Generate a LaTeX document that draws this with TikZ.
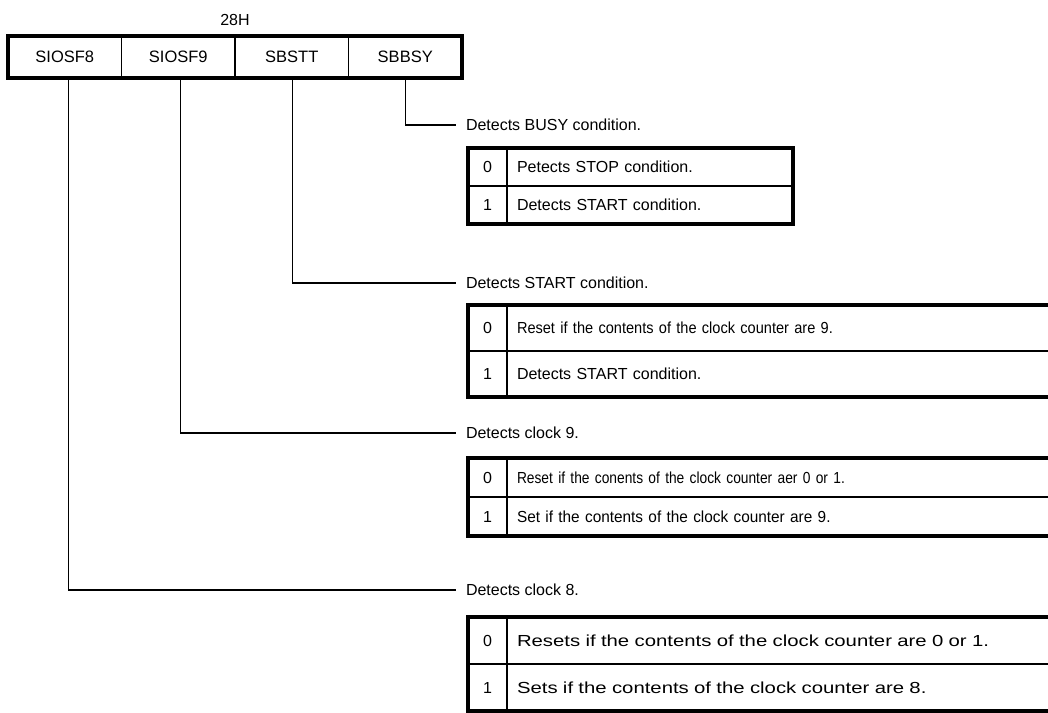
\documentclass[tikz,border=0pt]{standalone}
\usepackage{fontspec}
\setmainfont{Liberation Sans}
\usetikzlibrary{positioning}

\begin{document}
\begin{tikzpicture}[
	x=1pt, y=-1pt,
	node distance=0pt,
	every node/.style={font=\fontsize{16}{19}\selectfont, outer sep=0pt},
	reg/.style={draw, line width=1.3pt, minimum width=113.5pt, minimum height=42pt, inner sep=0pt, font=\fontsize{16.5}{19}\selectfont},
	bit/.style={draw, line width=1.3pt, minimum width=39pt, minimum height=#1, inner sep=0pt},
	bit/.default=44pt,
	desc/.style={draw, line width=1.3pt, minimum height=#1, inner xsep=10pt, inner ysep=0pt, text width=266pt, align=left},
	desc/.default=44pt,
	wide/.style={text width=543pt},
	stretch/.style={font=\fontsize{16}{19}\selectfont\addfontfeature{FakeStretch=#1}},
	outer/.style={line width=3.2pt},
	wire/.style={line width=1.3pt},
	remark/.style={anchor=west, inner xsep=10pt, inner ysep=2pt}
]
	\useasboundingbox (0,0) rectangle (1048,712);

	\node[reg, anchor=north west] (sf8) at (8,36) {SIOSF8};
	\node[reg, right=of sf8] (sf9) {SIOSF9};
	\node[reg, right=of sf9] (stt) {SBSTT};
	\node[reg, right=of stt] (bsy) {SBBSY};
	\node[above=7pt of sf9.north east] (addr) {28H};

	\node[remark] (busy) at (456,125) {Detects BUSY condition.};
	\node[remark] (start) at (456,283) {Detects START condition.};
	\node[remark] (clk9) at (456,433) {Detects clock 9.};
	\node[remark] (clk8) at (456,590) {Detects clock 8.};

	\node[bit=38pt, anchor=north west] (a0) at (468,148) {0};
	\node[desc=38pt, right=of a0] (ad0) {Petects STOP condition.};
	\node[bit=38pt, below=of a0] (a1) {1};
	\node[desc=38pt, right=of a1] (ad1) {Detects START condition.};

	\node[bit=46pt, anchor=north west] (b0) at (468,305) {0};
	\node[desc=46pt, wide, stretch=0.91, right=of b0] (bd0) {Reset if the contents of the clock counter are 9.};
	\node[bit=46pt, below=of b0] (b1) {1};
	\node[desc=46pt, wide, right=of b1] (bd1) {Detects START condition.};

	\node[bit=39pt, anchor=north west] (c0) at (468,458) {0};
	\node[desc=39pt, wide, stretch=0.86, right=of c0] (cd0) {Reset if the conents of the clock counter aer 0 or 1.};
	\node[bit=39pt, below=of c0] (c1) {1};
	\node[desc=39pt, wide, stretch=0.96, right=of c1] (cd1) {Set if the contents of the clock counter are 9.};

	\node[bit=47pt, anchor=north west] (e0) at (468,617) {0};
	\node[desc=47pt, wide, stretch=1.27, right=of e0] (ed0) {Resets if the contents of the clock counter are 0 or 1.};
	\node[bit=47pt, below=of e0] (e1) {1};
	\node[desc=47pt, wide, stretch=1.27, right=of e1] (ed1) {Sets if the contents of the clock counter are 8.};

	\draw[outer] (sf8.north west) rectangle (bsy.south east);
	\draw[outer] (a0.north west) rectangle (ad1.south east);
	\draw[outer] (b0.north west) rectangle (bd1.south east);
	\draw[outer] (c0.north west) rectangle (cd1.south east);
	\draw[outer] (e0.north west) rectangle (ed1.south east);

	\draw[wire] ([xshift=4pt]sf8.south) |- (clk8.west);
	\draw[wire] ([xshift=2pt]sf9.south) |- (clk9.west);
	\draw[wire] ([xshift=1pt]stt.south) |- (start.west);
	\draw[wire] (bsy.south) |- (busy.west);
\end{tikzpicture}
\end{document}
